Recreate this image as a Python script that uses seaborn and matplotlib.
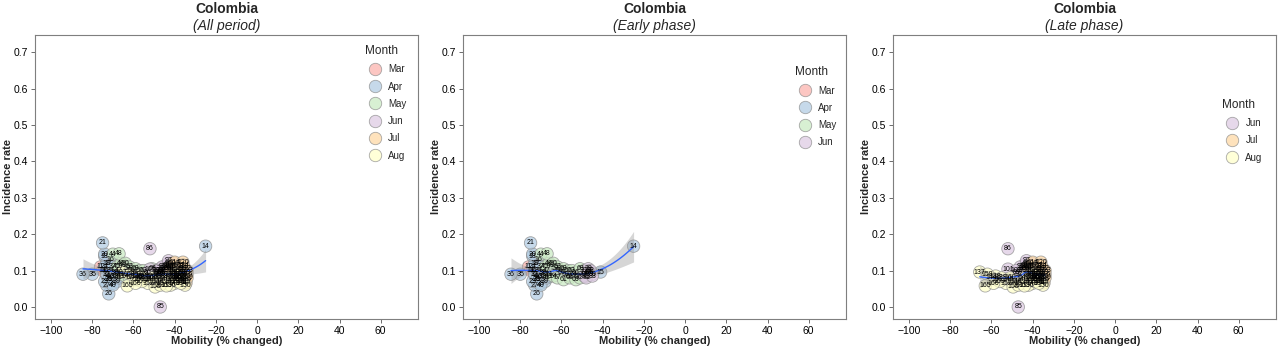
"""
Colombia: incidence rate vs mobility, three phases side by side.
"""
import numpy as np
import pandas as pd
import matplotlib
matplotlib.use("Agg")
import matplotlib.pyplot as plt
import seaborn as sns

# --- styling ---
sns.set_theme(style="ticks")
plt.rcParams['font.family'] = ['Liberation Sans', 'DejaVu Sans']

# --- data ---
month_names = ['Mar', 'Apr', 'May', 'Jun', 'Jul', 'Aug']
month_colors = ['#FBB4AE', '#B3CDE3', '#CCEBC5', '#DECBE4', '#FED9A6', '#FFFFCC']
month_first_day = [10, 14, 44, 75, 105, 136]

mob_mar = [-74, -76, -73, -75]
inc_mar = [0.10, 0.11, 0.09, 0.10]

mob_apr = [-25, -41, -71, -72, -74, -73, -74, -75, -73, -71,
           -74, -72, -72, -73, -70, -74, -71, -73, -69, -72,
           -71, -80, -84.5, -70, -69, -68, -70, -67, -68, -66]
inc_apr = [0.167, 0.096, 0.13, 0.12, 0.14, 0.12, 0.145, 0.176, 0.10, 0.085,
           0.11, 0.075, 0.036, 0.06, 0.065, 0.07, 0.08, 0.09, 0.085, 0.075,
           0.10, 0.09, 0.09, 0.11, 0.095, 0.07, 0.06, 0.08, 0.09, 0.085]

mob_may = [-70, -68, -66, -67, -67, -65, -64, -66, -63, -62,
           -64, -61, -60, -62, -59, -58, -57, -59, -56, -55,
           -54, -56, -53, -52, -51, -53, -50, -49, -51, -48, -49]
inc_may = [0.145, 0.11, 0.12, 0.10, 0.146, 0.115, 0.12, 0.09, 0.105, 0.11,
           0.085, 0.10, 0.095, 0.08, 0.105, 0.09, 0.10, 0.075, 0.085, 0.10,
           0.09, 0.08, 0.095, 0.085, 0.105, 0.075, 0.09, 0.10, 0.08, 0.085, 0.095]

mob_jun = [-48, -47, -49, -46, -47, -45, -48, -46, -45, -47,
           -47, -52, -46, -44, -48, -45, -43, -47, -44, -42,
           -46, -43, -43, -41, -45, -42, -52, -48, -40, -44]
inc_jun = [0.09, 0.10, 0.085, 0.095, 0.105, 0.09, 0.08, 0.10, 0.085, 0.095,
           0.0, 0.16, 0.10, 0.11, 0.095, 0.105, 0.10, 0.09, 0.115, 0.105,
           0.11, 0.12, 0.127, 0.11, 0.10, 0.115, 0.104, 0.10, 0.12, 0.105]

mob_jul = [-42, -40, -38, -41, -37, -39, -36, -40, -35, -40,
           -37, -34, -34.5, -36, -38, -36, -35, -39, -34, -37,
           -35, -41, -36, -38, -34, -42, -37, -35, -40, -36, -38]
inc_jul = [0.11, 0.10, 0.115, 0.095, 0.105, 0.09, 0.10, 0.085, 0.095, 0.123,
           0.08, 0.09, 0.066, 0.11, 0.075, 0.123, 0.085, 0.10, 0.10, 0.09,
           0.075, 0.08, 0.095, 0.085, 0.08, 0.09, 0.07, 0.105, 0.075, 0.115, 0.095]

mob_aug = [-40, -65.7, -58, -55, -45, -42, -38, -36, -60, -52,
           -48, -44, -40, -37, -35, -57, -53, -50, -46, -49.5,
           -42, -39, -62, -56, -51, -47, -41, -44, -37, -63, -59]
inc_aug = [0.09, 0.096, 0.085, 0.08, 0.075, 0.07, 0.08, 0.07, 0.08, 0.075,
           0.07, 0.08, 0.065, 0.075, 0.06, 0.075, 0.065, 0.07, 0.065, 0.055,
           0.06, 0.07, 0.09, 0.07, 0.08, 0.06, 0.075, 0.058, 0.065, 0.058, 0.065]

# 组装数据表
mob_all = [mob_mar, mob_apr, mob_may, mob_jun, mob_jul, mob_aug]
inc_all = [inc_mar, inc_apr, inc_may, inc_jun, inc_jul, inc_aug]
rows = []
for name, first, mobs, incs in zip(month_names, month_first_day, mob_all, inc_all):
    for i, (m, r) in enumerate(zip(mobs, incs)):
        rows.append({'day': first + i, 'Month': name, 'mobility': m, 'incidence': r})
df = pd.DataFrame(rows)


def loess_band(x, y, span=0.75, n_grid=80):
    """局部二次加权回归 (tricube)，返回网格、拟合值与 95% 置信区间"""
    x = np.asarray(x, float)
    y = np.asarray(y, float)
    n = len(x)
    q = int(np.floor(n * span))

    def weights_row(x0):
        d = np.abs(x - x0)
        h = np.sort(d)[q - 1] * max(1.0, span)
        w = np.clip(1 - (d / h) ** 3, 0, None) ** 3
        X = np.column_stack([np.ones(n), x - x0, (x - x0) ** 2])
        XtW = X.T * w
        return np.linalg.solve(XtW @ X, XtW)[0]

    grid = np.linspace(x.min(), x.max(), n_grid)
    Lg = np.array([weights_row(g) for g in grid])
    Lx = np.array([weights_row(v) for v in x])
    resid = y - Lx @ y
    IL = np.eye(n) - Lx
    delta1 = np.trace(IL.T @ IL)
    sigma = np.sqrt(np.sum(resid ** 2) / delta1)
    fit = Lg @ y
    se = sigma * np.sqrt(np.sum(Lg ** 2, axis=1))
    return grid, fit, fit - 1.97 * se, fit + 1.97 * se


palette = dict(zip(month_names, month_colors))
panels = [
    ('(All period)', df),
    ('(Early phase)', df[df['day'] <= 84]),
    ('(Late phase)', df[df['day'] >= 85]),
]
lefts = [35 / 1280, 463 / 1280, 893 / 1280]
legend_anchor = [(0.97, 0.965), (0.975, 0.89), (0.965, 0.775)]

fig = plt.figure(figsize=(12.8, 3.49), dpi=100)

for (subtitle, sub), left, anchor in zip(panels, lefts, legend_anchor):
    ax = fig.add_axes([left, 30 / 349, 383 / 1280, 284 / 349])
    months = [m for m in month_names if m in sub['Month'].unique()]

    sns.scatterplot(data=sub, x='mobility', y='incidence', hue='Month',
                    hue_order=months, palette=palette, s=80, alpha=0.75,
                    edgecolor='#8c8c8c', linewidth=0.6, ax=ax, zorder=2)

    gx, fit, lo, hi = loess_band(sub['mobility'], sub['incidence'])
    ax.fill_between(gx, lo, hi, color='#999999', alpha=0.4, lw=0, zorder=3)
    sns.lineplot(x=gx, y=fit, color='#3366FF', lw=1.0, ax=ax, zorder=4)

    for _, row in sub.iterrows():
        ax.text(row['mobility'], row['incidence'], str(row['day']), fontsize=5,
                ha='center', va='center', color='black', zorder=5)

    ax.set_xlim(-107.8, 78.1)
    ax.set_ylim(-0.033, 0.747)
    ax.set_xticks(np.arange(-100, 61, 20))
    ax.set_yticks(np.arange(0, 0.71, 0.1))
    ax.set_yticklabels([f'{v:.1f}' for v in np.arange(0, 0.71, 0.1)])
    ax.tick_params(labelsize=7.5, length=3, width=0.6, color='#555555',
                   labelcolor='black', pad=2)
    for sp in ax.spines.values():
        sp.set_color('#7f7f7f')
        sp.set_linewidth(0.8)

    ax.set_xlabel('Mobility (% changed)', fontsize=8, fontweight='bold')
    ax.set_ylabel('Incidence rate', fontsize=8, fontweight='bold')
    ax.xaxis.set_label_coords(0.5, -0.06)
    ax.yaxis.set_label_coords(-0.058, 0.5)

    ax.text(0.5, 1.09, 'Colombia', transform=ax.transAxes, ha='center',
            va='center', fontsize=10, fontweight='bold')
    ax.text(0.5, 1.033, subtitle, transform=ax.transAxes, ha='center',
            va='center', fontsize=10, fontstyle='italic')

    leg = ax.legend(title='Month', loc='upper right', bbox_to_anchor=anchor,
                    frameon=False, fontsize=7, title_fontsize=8.5,
                    borderpad=0, borderaxespad=0, labelspacing=0.75,
                    handletextpad=0.4)
    leg._legend_box.align = 'left'
    for h in leg.legend_handles:
        h.set_alpha(0.75)

fig.savefig('out.png', dpi=100)
plt.close(fig)
